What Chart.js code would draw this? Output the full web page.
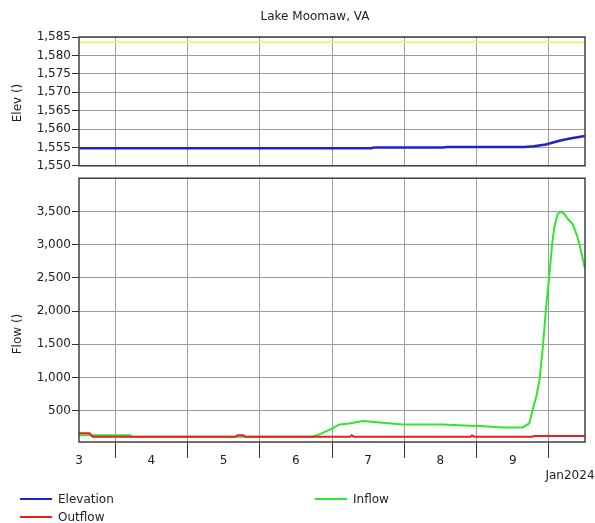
<!DOCTYPE html>
<html>
<head>
<meta charset="utf-8">
<script src="https://cdn.jsdelivr.net/npm/chart.js@4"></script>
<style>
  body { margin: 0; background: #fff; font-family: "DejaVu Sans", sans-serif; }
  #wrap { position: relative; width: 595px; height: 523px; }
  canvas { position: absolute; left: 0; }
  #elevCanvas { top: 0; }
  #flowCanvas { top: 170px; }
  .lg { position: absolute; font-size: 12px; line-height: 14px; color: #222; white-space: nowrap; }
  .lg i { position: absolute; left: -38px; top: 6px; width: 32px; height: 2px; }
</style>
</head>
<body>
<div id="wrap">
  <canvas id="elevCanvas" width="595" height="174"></canvas>
  <canvas id="flowCanvas" width="595" height="320"></canvas>
  <div id="legend"></div>
</div>
<script>
// x values are hours after Jan 3 2024 00:00
const xMin = 12, xMax = 180;
const dayLabels = ['3', '4', '5', '6', '7', '8', '9'];
const elevTicks = [1550, 1555, 1560, 1565, 1570, 1575, 1580, 1585];
const flowTicks = [500, 1000, 1500, 2000, 2500, 3000, 3500];

const elevHours  = [12, 109, 110, 133, 134, 160, 163, 167, 171.5, 175, 180];
const elevValues = [1554.8, 1554.8, 1554.95, 1554.95, 1555.1, 1555.1, 1555.3, 1555.8, 1556.8, 1557.4, 1558.1];

const poolHours  = [12, 180];
const poolValues = [1583.6, 1583.6];

const outflowHours  = [12, 15.5, 16.5, 64, 64.7, 66.5, 67.2, 102, 102.5, 103.2, 142, 142.5, 143.3, 162.5, 163, 180];
const outflowValues = [160, 160, 110, 110, 130, 130, 110, 110, 130, 110, 110, 130, 110, 110, 120, 120];

const inflowHours  = [12, 29, 29.5, 89.5, 91.8, 96.2, 98.5, 101.8, 106.2, 111.8, 119.5, 132.8, 141.6, 144.9, 152.7, 159.3,
                      161.5, 162.6, 163.8, 164.9, 166, 167.1, 168.2, 169.1, 169.8, 170.9, 172.1, 173.2, 174.3, 175.9, 177.2, 178.4, 180];
const inflowValues = [130, 130, 110, 110, 145, 235, 295, 310, 345, 325, 295, 295, 275, 270, 250, 250,
                      310, 510, 710, 960, 1460, 2060, 2560, 3010, 3260, 3460, 3495, 3460, 3385, 3310, 3160, 2960, 2635];

const FONT = { family: 'DejaVu Sans', size: 12 };
const TEXT = '#222';
const GRID = '#9c9c9c';

function pts(xs, ys) { return xs.map((x, i) => ({ x: x, y: ys[i] })); }

const midnights = [];
for (let h = 24; h < xMax; h += 24) midnights.push(h);
const halfDays = [];
for (let h = xMin; h <= xMax; h += 12) halfDays.push(h);

const frame = {
  id: 'frame',
  afterDatasetsDraw(chart) {
    const a = chart.chartArea, c = chart.ctx;
    c.save();
    c.strokeStyle = '#404040';
    c.lineWidth = 1.5;
    c.strokeRect(a.left, a.top, a.right - a.left, a.bottom - a.top);
    c.restore();
  }
};

function textPlugin(items) {
  return {
    id: 'texts',
    afterDraw(chart) {
      const c = chart.ctx;
      c.save();
      c.fillStyle = TEXT;
      c.font = '12px "DejaVu Sans"';
      c.textAlign = 'center';
      c.textBaseline = 'middle';
      items.forEach(t => {
        c.save();
        c.translate(t.x, t.y);
        if (t.rotate) c.rotate(-Math.PI / 2);
        c.fillText(t.text, 0, 0);
        c.restore();
      });
      c.restore();
    }
  };
}

new Chart(document.getElementById('elevCanvas'), {
  type: 'line',
  data: {
    datasets: [
      { label: 'Elevation', data: pts(elevHours, elevValues), borderColor: '#2222cc', borderWidth: 2.5, pointRadius: 0, tension: 0 },
      { label: 'Pool', data: pts(poolHours, poolValues), borderColor: '#eeee60', borderWidth: 1.5, pointRadius: 0, tension: 0 }
    ]
  },
  options: {
    responsive: false,
    animation: false,
    layout: { padding: { top: 37, right: 10, left: 0, bottom: 0 } },
    plugins: { legend: { display: false }, tooltip: { enabled: false } },
    scales: {
      x: {
        type: 'linear', min: xMin, max: xMax,
        afterBuildTicks: s => { s.ticks = midnights.map(v => ({ value: v })); },
        afterFit: s => { s.height = 4; },
        ticks: { display: false },
        grid: { color: GRID, drawTicks: false },
        border: { display: false }
      },
      y: {
        min: 1550, max: 1585,
        afterBuildTicks: s => { s.ticks = elevTicks.map(v => ({ value: v })); },
        afterFit: s => { s.width = 79; },
        ticks: { color: TEXT, font: FONT, padding: 1, callback: v => v.toLocaleString('en-US') },
        grid: { color: GRID, tickLength: 7, tickColor: '#333' },
        border: { display: false }
      }
    }
  },
  plugins: [frame, textPlugin([
    { text: 'Lake Moomaw, VA', x: 315, y: 17 },
    { text: 'Elev ()', x: 18, y: 103, rotate: true }
  ])]
});

new Chart(document.getElementById('flowCanvas'), {
  type: 'line',
  data: {
    datasets: [
      { label: 'Outflow', data: pts(outflowHours, outflowValues), borderColor: '#ee1c1c', borderWidth: 2, pointRadius: 0, tension: 0 },
      { label: 'Inflow', data: pts(inflowHours, inflowValues), borderColor: '#2ee82e', borderWidth: 2, pointRadius: 0, tension: 0 }
    ]
  },
  options: {
    responsive: false,
    animation: false,
    layout: { padding: { top: 7, right: 10, left: 0, bottom: 0 } },
    plugins: { legend: { display: false }, tooltip: { enabled: false } },
    scales: {
      x: {
        type: 'linear', min: xMin, max: xMax,
        afterBuildTicks: s => { s.ticks = halfDays.map(v => ({ value: v })); },
        afterFit: s => { s.height = 48; },
        ticks: {
          color: TEXT, font: FONT, padding: -4, autoSkip: false, maxRotation: 0,
          callback: v => (v % 24 === 12 && v < xMax) ? dayLabels[(v - 12) / 24] : ''
        },
        grid: {
          tickLength: 16,
          color: c => (c.tick && c.tick.value % 24 === 0) ? GRID : 'rgba(0,0,0,0)',
          tickColor: c => (c.tick && c.tick.value % 24 === 0) ? '#333' : 'rgba(0,0,0,0)'
        },
        border: { display: false }
      },
      y: {
        min: 30, max: 4000,
        afterBuildTicks: s => { s.ticks = flowTicks.map(v => ({ value: v })); },
        afterFit: s => { s.width = 79; },
        ticks: { color: TEXT, font: FONT, padding: 1, callback: v => v.toLocaleString('en-US') },
        grid: { color: GRID, tickLength: 7, tickColor: '#333' },
        border: { display: false }
      }
    }
  },
  plugins: [frame, textPlugin([
    { text: 'Jan2024', x: 570, y: 306 },
    { text: 'Flow ()', x: 18, y: 164, rotate: true }
  ])]
});

// legend: two columns
const legendItems = [
  { label: 'Elevation', color: '#2222cc' },
  { label: 'Inflow', color: '#2ee82e' },
  { label: 'Outflow', color: '#ee1c1c' }
];
const cols = [58, 353], rows = [492, 510];
const lg = document.getElementById('legend');
legendItems.forEach((it, i) => {
  const d = document.createElement('div');
  d.className = 'lg';
  d.style.left = cols[i % 2] + 'px';
  d.style.top = rows[Math.floor(i / 2)] + 'px';
  d.innerHTML = '<i style="background:' + it.color + '"></i>' + it.label;
  lg.appendChild(d);
});
</script>
</body>
</html>
